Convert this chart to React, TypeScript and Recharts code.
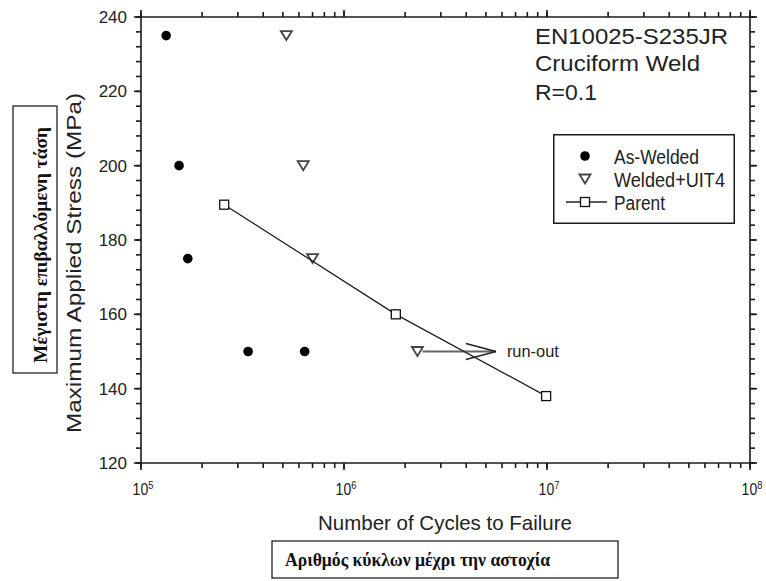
import { ScatterChart, Scatter, XAxis, YAxis, ReferenceLine, Legend } from 'recharts'

// cycles to failure / max applied stress (MPa)
const asWeldedCycles = [1.33e5, 1.54e5, 1.7e5, 3.37e5, 6.4e5]
const asWeldedStress = [235, 200, 175, 150, 150]
const uitCycles = [5.2e5, 6.3e5, 7.0e5, 2.3e6]
const uitStress = [235, 200, 175, 150]
const parentCycles = [2.57e5, 1.8e6, 9.9e6]
const parentStress = [189.5, 160, 138]
const runOutFrom = 2.3e6
const runOutTo = 5.6e6
const runOutStress = 150

const seriesNames = ['As-Welded', 'Welded+UIT4', 'Parent']

const xMajorTicks = [1e5, 1e6, 1e7, 1e8]
const xMinorSteps = [2, 3, 4, 5, 6, 7, 8, 9]
const yMajorTicks = [120, 140, 160, 180, 200, 220, 240]
const yMinorStep = 4

const AXIS = '#1a1a1a'
const SANS = '"Liberation Sans", Arial, sans-serif'
const SERIF = '"Liberation Serif", "Times New Roman", serif'
const TICK_W = 1.6
const MINOR = 5 // built-in tick length; majors get a little extra
const EXTRA = 2

const toPoints = (xs: number[], ys: number[]) => xs.map((n, i) => ({ n, s: ys[i] }))
const asWelded = toPoints(asWeldedCycles, asWeldedStress)
const uit = toPoints(uitCycles, uitStress)
const parent = toPoints(parentCycles, parentStress)

const xTicks = xMajorTicks.flatMap((d, i) =>
  i < xMajorTicks.length - 1 ? [d, ...xMinorSteps.map((m) => d * m)] : [d]
)
const yTicks: number[] = []
for (let v = yMajorTicks[0]; v <= yMajorTicks[yMajorTicks.length - 1]; v += yMinorStep) yTicks.push(v)

const isXMajor = (v: number) => xMajorTicks.includes(v)
const isYMajor = (v: number) => yMajorTicks.includes(v)

// x, y arrive at the outer end of the built-in tick line
function BottomTick({ x, y, payload }: any) {
  if (!isXMajor(payload.value)) return null
  const exp = Math.round(Math.log10(payload.value))
  return (
    <g>
      <line x1={x} x2={x} y1={y - MINOR} y2={y + EXTRA} stroke={AXIS} strokeWidth={TICK_W} />
      <text
        transform={`translate(${x + 2},${y + 27}) scale(0.85,1)`}
        textAnchor="middle"
        fontFamily={SANS}
        fontSize={16.5}
        fill="#222"
      >
        10
        <tspan dy={-6} fontSize={11}>
          {exp}
        </tspan>
      </text>
    </g>
  )
}

function TopTick({ x, y, payload }: any) {
  if (!isXMajor(payload.value)) return null
  return <line x1={x} x2={x} y1={y + MINOR} y2={y - EXTRA} stroke={AXIS} strokeWidth={TICK_W} />
}

function LeftTick({ x, y, payload }: any) {
  if (!isYMajor(payload.value)) return null
  return (
    <g>
      <line x1={x - EXTRA} x2={x + MINOR} y1={y} y2={y} stroke={AXIS} strokeWidth={TICK_W} />
      <text x={x - 9} y={y + 6} textAnchor="end" fontFamily={SANS} fontSize={17} fill="#222">
        {payload.value}
      </text>
    </g>
  )
}

function RightTick({ x, y, payload }: any) {
  if (!isYMajor(payload.value)) return null
  return <line x1={x - MINOR} x2={x + EXTRA} y1={y} y2={y} stroke={AXIS} strokeWidth={TICK_W} />
}

const Dot = (p: any) => <circle cx={p.cx} cy={p.cy} r={4.8} fill="#000" />
const Tri = (p: any) => (
  <path
    d={`M${p.cx - 5.5},${p.cy - 4.5}L${p.cx + 5.5},${p.cy - 4.5}L${p.cx},${p.cy + 4.5}Z`}
    fill="#fff"
    stroke="#444"
    strokeWidth={1.8}
  />
)
const Sq = (p: any) => (
  <rect x={p.cx - 4.5} y={p.cy - 4.5} width={9} height={9} fill="#fff" stroke="#111" strokeWidth={1.3} />
)

function RunOut(p: any) {
  const { x1, x2, y1 } = p
  return (
    <g>
      <line x1={x1 + 5} x2={x2} y1={y1} y2={y1} stroke="#666" strokeWidth={2} />
      <line x1={x2 - 30} x2={x2} y1={y1 - 8} y2={y1} stroke="#222" strokeWidth={1.3} />
      <line x1={x2 - 30} x2={x2} y1={y1 + 8} y2={y1} stroke="#222" strokeWidth={1.3} />
      <text x={x2 + 11} y={y1 + 5} fontFamily={SANS} fontSize={17} fill="#222" textLength={52} lengthAdjust="spacingAndGlyphs">
        run-out
      </text>
    </g>
  )
}

const legendWidths: Record<string, number> = { 'As-Welded': 85, 'Welded+UIT4': 111, Parent: 51 }

function LegendBox({ payload }: any) {
  const rows = [...(payload ?? [])]
    .filter((e: any) => seriesNames.includes(e.value))
    .sort((a: any, b: any) => seriesNames.indexOf(a.value) - seriesNames.indexOf(b.value))
  return (
    <svg width={182} height={90} style={{ display: 'block' }}>
      <rect x={0.75} y={0.75} width={180.5} height={88.5} fill="#fff" stroke={AXIS} strokeWidth={1.5} />
      {rows.map((entry: any, i: number) => {
        const cy = 22 + i * 23
        const name = entry.value
        let icon = null
        if (name === 'As-Welded') icon = <circle cx={32} cy={cy} r={4.8} fill="#000" />
        else if (name === 'Welded+UIT4')
          icon = <path d={`M26.5,${cy - 4.5}L37.5,${cy - 4.5}L32,${cy + 4.5}Z`} fill="#fff" stroke="#444" strokeWidth={1.8} />
        else
          icon = (
            <g>
              <line x1={13} x2={54} y1={cy} y2={cy} stroke="#222" strokeWidth={1.3} />
              <rect x={27.5} y={cy - 4.5} width={9} height={9} fill="#fff" stroke="#111" strokeWidth={1.3} />
            </g>
          )
        return (
          <g key={name}>
            {icon}
            <text x={61} y={cy + 8} fontFamily={SANS} fontSize={20} fill="#222" textLength={legendWidths[name]} lengthAdjust="spacingAndGlyphs">
              {name}
            </text>
          </g>
        )
      })}
    </svg>
  )
}

const axisCommon = {
  type: 'number' as const,
  allowDataOverflow: true,
  interval: 0 as const,
  tickSize: MINOR,
  tickMargin: 0,
  stroke: AXIS,
  axisLine: { stroke: AXIS, strokeWidth: 1.6 },
  tickLine: { stroke: AXIS, strokeWidth: TICK_W },
}

export default function App() {
  return (
    <div style={{ position: 'relative', width: 766, height: 581, background: '#fff' }}>
      <style>{'body{margin:0}'}</style>
      <ScatterChart width={766} height={581} margin={{ top: 0, right: 0, bottom: 0, left: 0 }}>
        <XAxis {...axisCommon} xAxisId="bottom" dataKey="n" scale="log" domain={[1e5, 1e8]} ticks={xTicks} height={118} tick={<BottomTick />} />
        <XAxis {...axisCommon} xAxisId="top" dataKey="n" orientation="top" scale="log" domain={[1e5, 1e8]} ticks={xTicks} height={17} tick={<TopTick />} />
        <YAxis {...axisCommon} yAxisId="left" dataKey="s" domain={[120, 240]} ticks={yTicks} width={141} tick={<LeftTick />} />
        <YAxis {...axisCommon} yAxisId="right" dataKey="s" orientation="right" domain={[120, 240]} ticks={yTicks} width={16} tick={<RightTick />} />
        <Scatter name="As-Welded" data={asWelded} xAxisId="bottom" yAxisId="left" shape={Dot} isAnimationActive={false} />
        <Scatter name="Welded+UIT4" data={uit} xAxisId="bottom" yAxisId="left" shape={Tri} isAnimationActive={false} />
        {/* top/right axes share the same domain, so Parent plotted on them lands in the same place */}
        <Scatter
          name="Parent"
          data={parent}
          xAxisId="top"
          yAxisId="right"
          shape={Sq}
          line={{ stroke: '#222', strokeWidth: 1.3 }}
          lineType="joint"
          isAnimationActive={false}
        />
        <ReferenceLine
          xAxisId="bottom"
          yAxisId="left"
          segment={[
            { x: runOutFrom, y: runOutStress },
            { x: runOutTo, y: runOutStress },
          ]}
          shape={RunOut}
        />
        <Legend
          layout="vertical"
          align="center"
          verticalAlign="middle"
          wrapperStyle={{ left: 553, top: 134, width: 182, height: 90 }}
          content={<LegendBox />}
        />
      </ScatterChart>
      <svg width={766} height={581} style={{ position: 'absolute', left: 0, top: 0, pointerEvents: 'none' }}>
        <g fontFamily={SANS} fill="#222" fontSize={22}>
          <text x={535} y={44} textLength={193} lengthAdjust="spacingAndGlyphs">EN10025-S235JR</text>
          <text x={535} y={71} textLength={165} lengthAdjust="spacingAndGlyphs">Cruciform Weld</text>
          <text x={535} y={100} textLength={62} lengthAdjust="spacingAndGlyphs">R=0.1</text>
        </g>
        <text x={445} y={530} textAnchor="middle" fontFamily={SANS} fontSize={21} fill="#222" textLength={254} lengthAdjust="spacingAndGlyphs">
          Number of Cycles to Failure
        </text>
        <text
          transform="translate(81,263) rotate(-90)"
          textAnchor="middle"
          fontFamily={SANS}
          fontSize={21}
          fill="#222"
          textLength={340}
          lengthAdjust="spacingAndGlyphs"
        >
          Maximum Applied Stress (MPa)
        </text>
        <rect x={13} y={106} width={44} height={267} fill="none" stroke="#222" strokeWidth={1.3} />
        <text
          transform="translate(47,245) rotate(-90)"
          textAnchor="middle"
          fontFamily={SERIF}
          fontWeight="bold"
          fontSize={19}
          fill="#111"
          textLength={236}
          lengthAdjust="spacingAndGlyphs"
        >
          Μέγιστη επιβαλλόμενη τάση
        </text>
        <rect x={272} y={541} width={346} height={37} fill="none" stroke="#222" strokeWidth={1.3} />
        <text x={285} y={566} fontFamily={SERIF} fontWeight="bold" fontSize={18} fill="#111" textLength={265} lengthAdjust="spacingAndGlyphs">
          Αριθμός κύκλων μέχρι την αστοχία
        </text>
      </svg>
    </div>
  )
}
